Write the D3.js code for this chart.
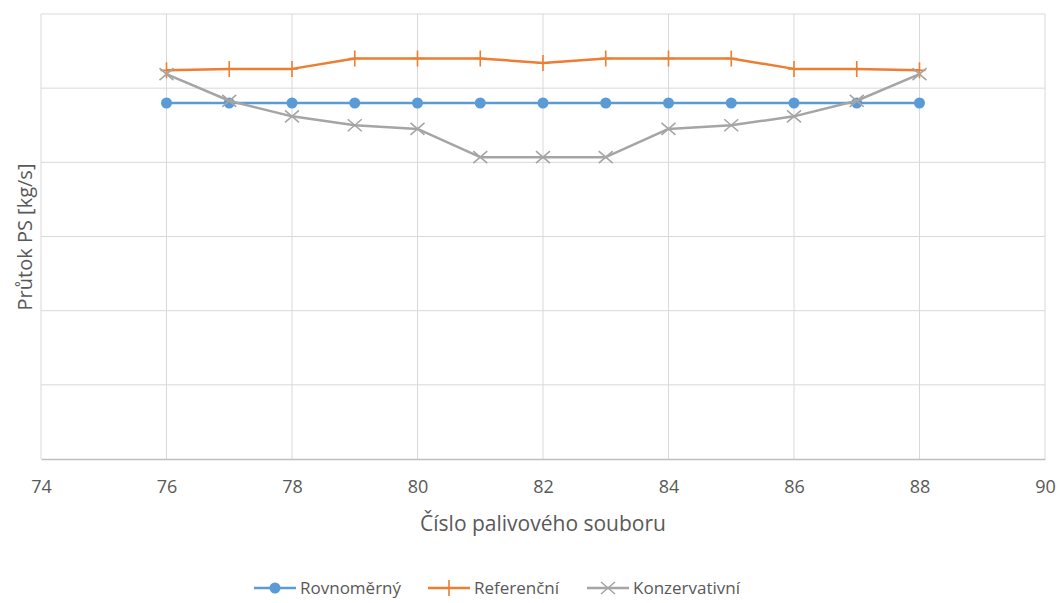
<!DOCTYPE html>
<html><head><meta charset="utf-8">
<script src="https://cdn.jsdelivr.net/npm/d3@7/dist/d3.min.js"></script>
<style>body{margin:0;background:#fff}svg{display:block}text{font-family:"Open Sans",sans-serif;fill:#595959}</style>
</head><body>
<svg id="c" width="1061" height="603"></svg>
<script>
const xValues = [76,77,78,79,80,81,82,83,84,85,86,87,88];
const rovnomerny = [4.80,4.80,4.80,4.80,4.80,4.80,4.80,4.80,4.80,4.80,4.80,4.80,4.80];
const referencni = [5.24,5.26,5.26,5.40,5.40,5.40,5.34,5.40,5.40,5.40,5.26,5.26,5.24];
const konzervativni = [5.19,4.83,4.62,4.50,4.45,4.07,4.07,4.07,4.45,4.50,4.62,4.83,5.19];
const seriesNames = ["Rovnoměrný","Referenční","Konzervativní"];
const xTicks = [74,76,78,80,82,84,86,88,90];
const yTicks = [0,1,2,3,4,5,6];

const svg = d3.select("#c");
const L=41,R=1045,T=14,B=459;
const x = d3.scaleLinear().domain([74,90]).range([L,R]);
const y = d3.scaleLinear().domain([0,6]).range([B,T]);

// gridlines
svg.append("g").selectAll("line").data(yTicks.filter(d=>d>0)).join("line")
  .attr("x1",L).attr("x2",R).attr("y1",d=>y(d)).attr("y2",d=>y(d))
  .attr("stroke","#d9d9d9").attr("stroke-width",1);
svg.append("g").selectAll("line").data(xTicks).join("line")
  .attr("x1",d=>x(d)).attr("x2",d=>x(d)).attr("y1",T).attr("y2",B)
  .attr("stroke","#d9d9d9").attr("stroke-width",1);
// x axis
const xa = svg.append("g").attr("transform",`translate(0,${B})`)
  .call(d3.axisBottom(x).tickValues(xTicks).tickSize(0).tickPadding(21));
xa.select(".domain").attr("stroke","#bfbfbf").attr("stroke-width",1.5);
xa.selectAll("text").attr("font-size",18).attr("fill","#595959").style("font-family","'Open Sans',sans-serif");

svg.append("text").attr("x",(L+R)/2).attr("y",531).attr("text-anchor","middle")
  .attr("font-size",21).text("Číslo palivového souboru");
svg.append("text").attr("transform","translate(32,237) rotate(-90)").attr("text-anchor","middle")
  .attr("font-size",20).text("Průtok PS [kg/s]");

const colors = ["#5b9bd5","#ed7d31","#a5a5a5"];
const data = [rovnomerny,referencni,konzervativni];
const line = d3.line().x((d,i)=>x(xValues[i])).y(d=>y(d));

function marker(g,type,cx,cy,col){
  if(type===0){g.append("circle").attr("cx",cx).attr("cy",cy).attr("r",5.5).attr("fill",col);}
  else if(type===1){
    g.append("path").attr("d",`M${cx-6},${cy}H${cx+6}M${cx},${cy-8}V${cy+8}`).attr("stroke",col).attr("stroke-width",1.6).attr("fill","none");
  } else {
    g.append("path").attr("d",`M${cx-7},${cy-6}L${cx+7},${cy+6}M${cx-7},${cy+6}L${cx+7},${cy-6}`).attr("stroke",col).attr("stroke-width",1.6).attr("fill","none");
  }
}
data.forEach((s,k)=>{
  const g = svg.append("g");
  g.append("path").datum(s).attr("d",line).attr("fill","none").attr("stroke",colors[k]).attr("stroke-width",2.5).attr("stroke-linejoin","round");
  s.forEach((v,i)=>marker(g,k,x(xValues[i]),y(v),colors[k]));
});

// legend
const legX=[254,428,587];
const lg = svg.append("g");
seriesNames.forEach((n,k)=>{
  const cy=588;
  lg.append("line").attr("x1",legX[k]).attr("x2",legX[k]+42).attr("y1",cy).attr("y2",cy).attr("stroke",colors[k]).attr("stroke-width",2.5);
  marker(lg,k,legX[k]+21,cy,colors[k]);
  lg.append("text").attr("x",legX[k]+46).attr("y",cy+6).attr("font-size",17).text(n);
});
</script>
</body></html>
